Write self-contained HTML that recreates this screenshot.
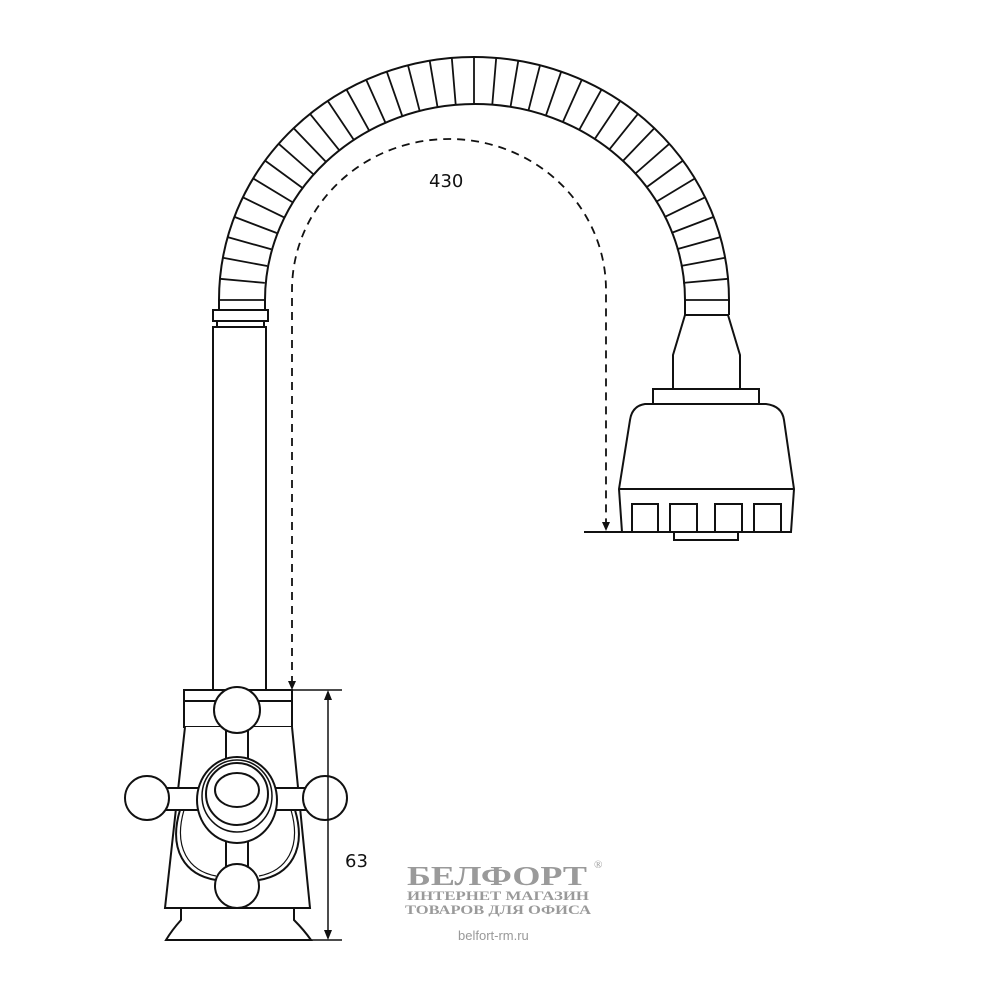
<!DOCTYPE html>
<html><head><meta charset="utf-8"><style>
html,body{margin:0;padding:0;background:#fff;width:1000px;height:1000px;overflow:hidden}
</style></head><body>
<svg id="s" width="1000" height="1000" viewBox="0 0 1000 1000" xmlns="http://www.w3.org/2000/svg" fill="none" stroke="#111" stroke-width="2">
<!-- hose -->
<path d="M219 310 L219 300 A255 243 0 0 1 729 300 L729 315 M265 310 L265 300 A210 196 0 0 1 685 300 L685 315"/>
<g id="seg" stroke-width="1.8"></g>
<!-- left stem -->
<line x1="219" y1="310" x2="265" y2="310"/>
<rect x="213" y="310" width="55" height="11" fill="#fff"/>
<rect x="217" y="321" width="47" height="6" fill="#fff"/>
<rect x="213" y="327" width="53" height="363" fill="#fff"/>
<!-- right head -->
<line x1="685" y1="315" x2="729" y2="315"/>
<path d="M685 315 L673 355 L673 389 M728 315 L740 355 L740 389"/>
<rect x="653" y="389" width="106" height="15" fill="#fff"/>
<path d="M645 404 L766 404 Q782 406 784 420 L794 489 L791 532 L622 532 L619 489 L630 420 Q632 406 645 404 Z" fill="#fff"/>
<line x1="619" y1="489" x2="794" y2="489"/>
<rect x="632" y="504" width="26" height="28"/>
<rect x="670" y="504" width="27" height="28"/>
<rect x="715" y="504" width="27" height="28"/>
<rect x="754" y="504" width="27" height="28"/>
<rect x="674" y="532" width="64" height="8"/>
<line x1="584" y1="532" x2="622" y2="532"/>
<!-- dashed dimension -->
<path d="M292 684 L292 290 A157 151 0 0 1 606 290 L606 524" stroke-dasharray="8 6" stroke-width="1.8"/>
<path d="M288 681 L292 690 L296 681 Z M602 522 L606 531 L610 522 Z" fill="#111" stroke="none"/>
<text x="429" y="187" font-family="DejaVu Sans, Liberation Sans, sans-serif" font-size="18" fill="#111" stroke="none">430</text>
<!-- valve -->
<rect x="184" y="690" width="108" height="37" fill="#fff"/>
<line x1="184" y1="701" x2="292" y2="701"/>
<path d="M185 727 L165 908 L310 908 L292 727" fill="#fff"/>
<path d="M181 908 L181 920 Q172 930 166 940 L311 940 Q304 930 294 920 L294 908"/>
<path d="M180 810 C168 850 185 875 216 880 M295 810 C307 850 290 875 259 880"/>
<path d="M184 810 C173 848 189 871 216 876 M291 810 C302 848 286 871 259 876" stroke-width="1.2"/>
<!-- arms -->
<rect x="226" y="725" width="22" height="150" fill="#fff"/>
<rect x="160" y="788" width="155" height="22" fill="#fff"/>
<circle cx="237" cy="710" r="23" fill="#fff"/>
<circle cx="147" cy="798" r="22" fill="#fff"/>
<circle cx="325" cy="798" r="22" fill="#fff"/>
<circle cx="237" cy="886" r="22" fill="#fff"/>
<ellipse cx="237" cy="800" rx="40" ry="43" fill="#fff"/>
<ellipse cx="237" cy="796" rx="35" ry="36" stroke-width="1.5"/>
<ellipse cx="237" cy="794" rx="31" ry="31"/>
<ellipse cx="237" cy="790" rx="22" ry="17"/>
<!-- 63 dimension -->
<line x1="292" y1="690" x2="342" y2="690" stroke-width="1.5"/>
<line x1="311" y1="940" x2="342" y2="940" stroke-width="1.5"/>
<line x1="328" y1="696" x2="328" y2="934" stroke-width="1.5"/>
<path d="M324 700 L328 690 L332 700 Z M324 930 L328 940 L332 930 Z" fill="#111" stroke="none"/>
<text x="345" y="867" font-family="DejaVu Sans, Liberation Sans, sans-serif" font-size="18" fill="#111" stroke="none">63</text>
<!-- watermark -->
<g fill="#9a9a9a" stroke="none" font-family="Liberation Serif, DejaVu Serif, serif" font-weight="bold">
<text x="407" y="885" font-size="27" textLength="180" lengthAdjust="spacingAndGlyphs">БЕЛФОРТ</text>
<text x="594" y="868" font-size="11" font-weight="normal">®</text>
<text x="407" y="900" font-size="13" textLength="182" lengthAdjust="spacingAndGlyphs">ИНТЕРНЕТ  МАГАЗИН</text>
<text x="405" y="914" font-size="13" textLength="186" lengthAdjust="spacingAndGlyphs">ТОВАРОВ ДЛЯ ОФИСА</text>
<text x="458" y="940" font-size="13" font-weight="normal" font-family="Liberation Sans, sans-serif" fill="#999">belfort-rm.ru</text>
</g>
</svg>
<script>
var g=document.getElementById('seg'),h='';
var cx=474,cy=300,n=36;
for(var i=1;i<n;i++){var t=Math.PI*i/n;var c=Math.cos(t),s=Math.sin(t);
var x1=cx-210*c,y1=cy-196*s,x2=cx-255*c,y2=cy-243*s;
h+='<line x1="'+x1.toFixed(1)+'" y1="'+y1.toFixed(1)+'" x2="'+x2.toFixed(1)+'" y2="'+y2.toFixed(1)+'"/>';}
h+='<line x1="219" y1="300" x2="265" y2="300"/><line x1="685" y1="300" x2="729" y2="300"/>';
g.innerHTML=h;
</script>
</body></html>
